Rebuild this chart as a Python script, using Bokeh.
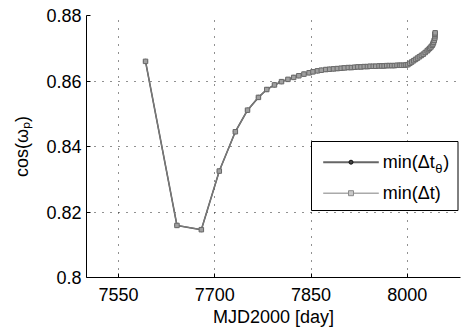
from bokeh.plotting import figure
from bokeh.models import Range1d, Label, FixedTicker
from bokeh.embed import file_html
from bokeh.resources import INLINE

# ---------------- data ----------------
mjd = [7592, 7641, 7679, 7707, 7732, 7751, 7768, 7781, 7793, 7804, 7814, 7823,
       7831, 7839, 7847, 7853, 7860, 7866, 7873, 7879, 7885, 7891, 7897, 7902,
       7908, 7913, 7918, 7923, 7928, 7933, 7938, 7942, 7947, 7951, 7956, 7960,
       7964, 7968, 7972, 7976, 7980, 7984, 7988, 7991, 7995, 7998, 8001, 8004,
       8007, 8010, 8013, 8016, 8019, 8022, 8025, 8028, 8031, 8033, 8035, 8037,
       8039, 8040, 8041, 8042, 8043, 8043, 8043, 8043.5]
cos_wp_dt = [0.8660, 0.8159, 0.8146, 0.8325, 0.8445, 0.8511, 0.8550, 0.8574,
             0.8588, 0.8598, 0.8605, 0.8611, 0.8616, 0.8621, 0.8625, 0.8628,
             0.8631, 0.8633, 0.8635, 0.8636, 0.8637, 0.8638, 0.8639, 0.8640,
             0.8641, 0.8641, 0.8642, 0.8643, 0.8643, 0.8644, 0.8644, 0.8645,
             0.8645, 0.8645, 0.8646, 0.8646, 0.8646, 0.8647, 0.8647, 0.8647,
             0.8647, 0.8648, 0.8648, 0.8648, 0.8648, 0.8649, 0.8650, 0.8654,
             0.8658, 0.8662, 0.8666, 0.8670, 0.8674, 0.8678, 0.8682, 0.8687,
             0.8692, 0.8696, 0.8700, 0.8704, 0.8709, 0.8713, 0.8718, 0.8724,
             0.8731, 0.8738, 0.8743, 0.8747]
cos_wp_dt_theta = list(cos_wp_dt)

x_ticks = [7550, 7700, 7850, 8000]
y_ticks = [0.80, 0.82, 0.84, 0.86, 0.88]
y_tick_labels = ["0.8", "0.82", "0.84", "0.86", "0.88"]
series_labels = ["min(\u0394t", "min(\u0394t)"]

# ---------------- layout ----------------
W, H = 463, 330
FL, FT, FW, FH = 86, 15, 374, 262     # frame left/top/width/height in px
X0, X1 = 7500, 8083
Y0, Y1 = 0.80, 0.88
FONT = "Liberation Sans"

p = figure(width=W, height=H, output_backend="svg", toolbar_location=None,
           x_range=Range1d(X0, X1), y_range=Range1d(Y0, Y1),
           min_border_left=FL, min_border_right=W - FL - FW, min_border_top=FT,
           min_border_bottom=H - FT - FH)
p.outline_line_color = None
p.background_fill_color = "white"
p.border_fill_color = "white"

for ax in (p.xaxis[0], p.yaxis[0]):
    ax.axis_line_color = "black"
    ax.axis_line_width = 1
    ax.major_tick_in = 4
    ax.major_tick_out = 0
    ax.minor_tick_in = 0
    ax.minor_tick_out = 0
    ax.major_tick_line_color = "black"
    ax.major_label_text_font = FONT
    ax.major_label_text_font_size = "18px"
    ax.major_label_text_color = "black"
    ax.axis_label_text_font = FONT
    ax.axis_label_text_font_size = "18px"
    ax.axis_label_text_font_style = "normal"
    ax.axis_label_text_color = "black"

p.xaxis.ticker = FixedTicker(ticks=x_ticks)
p.yaxis.ticker = FixedTicker(ticks=y_ticks)
p.yaxis.major_label_overrides = {t: s for t, s in zip(y_ticks, y_tick_labels)}
p.xaxis.major_label_standoff = 10
p.yaxis.major_label_standoff = 5
p.xaxis.axis_label = "MJD2000 [day]"
p.xaxis.axis_label_standoff = 3
p.yaxis.axis_label = "cos(\u03c9\u209a)"
p.yaxis.axis_label_standoff = 11

for g in (p.xgrid[0], p.ygrid[0]):
    g.grid_line_color = "#222222"
    g.grid_line_dash = "1 7"
    g.grid_line_width = 1

# ---------------- series ----------------
DARK_LINE, DARK_MK = "#555555", "#1a1a1a"
LIGHT_LINE, LIGHT_MK = "#7a7a7a", "#6a6a6a"
p.line(mjd, cos_wp_dt_theta, line_color=DARK_LINE, line_width=1.6)
p.scatter(mjd, cos_wp_dt_theta, marker="circle", size=4, line_color=DARK_MK,
          fill_color=DARK_LINE)
p.line(mjd, cos_wp_dt, line_color=LIGHT_LINE, line_width=1.2)
p.scatter(mjd, cos_wp_dt, marker="square", size=4.5, line_color=LIGHT_MK,
          fill_color="#a0a0a0")

# ---------------- legend (drawn by hand for the subscript) ----------------
def dx(px):  # px -> data x
    return X0 + (px - FL) * (X1 - X0) / FW

def dy(py):  # px -> data y
    return Y1 - (py - FT) * (Y1 - Y0) / FH

box_l, box_r, box_t, box_b = 311, 457.5, 141, 210
row_y = [161.7, 192.7]
ln_a, ln_b, txt_x = 322.7, 378.3, 382.3

p.quad(left=[dx(box_l)], right=[dx(box_r)], top=[dy(box_t)], bottom=[dy(box_b)],
       fill_color="white", line_color="black", line_width=1)

styles = [("#666666", 2.0, "circle", 4, "#111111", "#444444"),
          ("#aaaaaa", 1.5, "square", 5, "#8c8c8c", "#c8c8c8")]
for ry, (lc, lw, mk, ms, mlc, mfc), lab in zip(row_y, styles, series_labels):
    p.line([dx(ln_a), dx(ln_b)], [dy(ry), dy(ry)], line_color=lc, line_width=lw)
    p.scatter([dx((ln_a + ln_b) / 2)], [dy(ry)], marker=mk, size=ms,
              line_color=mlc, fill_color=mfc)
    p.add_layout(Label(x=dx(txt_x), y=dy(ry), text=lab, text_font=FONT,
                       text_font_size="18px", text_baseline="middle",
                       text_color="black"))

# subscript theta and closing parenthesis of the first entry
p.add_layout(Label(x=dx(txt_x), y=dy(row_y[0]), x_offset=52.5, y_offset=-6,
                   text="\u03b8", text_font=FONT, text_font_size="13px",
                   text_baseline="middle", text_color="black"))
p.add_layout(Label(x=dx(txt_x), y=dy(row_y[0]), x_offset=60.5, text=")",
                   text_font=FONT, text_font_size="18px", text_baseline="middle",
                   text_color="black"))

open("out.html", "w").write(file_html(p, INLINE))
